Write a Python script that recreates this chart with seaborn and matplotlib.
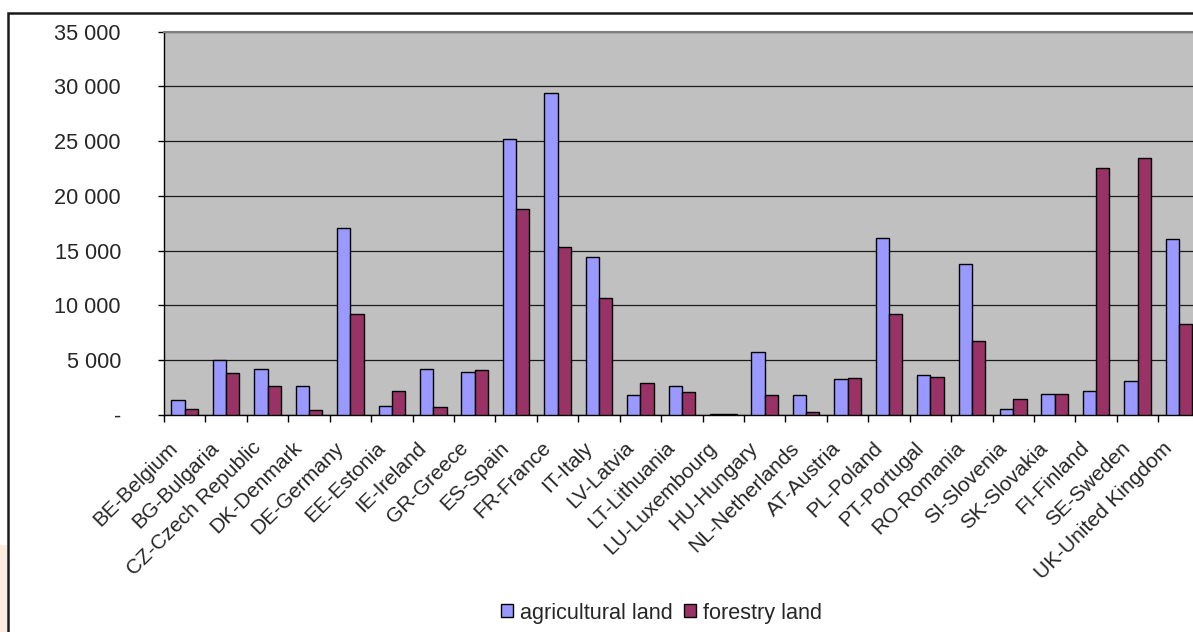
import matplotlib
matplotlib.use("Agg")
import matplotlib.pyplot as plt
import matplotlib.transforms as mtransforms
from matplotlib.patches import Rectangle, Patch
from matplotlib.ticker import FixedLocator, FuncFormatter
import numpy as np
import pandas as pd
import seaborn as sns

countries = [
    "BE-Belgium", "BG-Bulgaria", "CZ-Czech Republic", "DK-Denmark", "DE-Germany",
    "EE-Estonia", "IE-Ireland", "GR-Greece", "ES-Spain", "FR-France",
    "IT-Italy", "LV-Latvia", "LT-Lithuania", "LU-Luxembourg", "HU-Hungary",
    "NL-Netherlands", "AT-Austria", "PL-Poland", "PT-Portugal", "RO-Romania",
    "SI-Slovenia", "SK-Slovakia", "FI-Finland", "SE-Sweden", "UK-United Kingdom",
]
agricultural_land = [
    1400, 5060, 4235, 2650, 17030,
    795, 4205, 3930, 25170, 29370,
    14440, 1800, 2620, 100, 5760,
    1800, 3260, 16150, 3625, 13770,
    550, 1920, 2220, 3135, 16060,
]
forestry_land = [
    520, 3810, 2650, 430, 9260,
    2220, 700, 4115, 18830, 15330,
    10720, 2925, 2100, 90, 1800,
    300, 3350, 9260, 3500, 6765,
    1430, 1920, 22520, 23460, 8320,
]
series_names = ["agricultural land", "forestry land"]
series_colors = {"agricultural land": "#9999FF", "forestry land": "#993366"}

df = pd.DataFrame({
    "country": countries * 2,
    "series": [series_names[0]] * len(countries) + [series_names[1]] * len(countries),
    "value": agricultural_land + forestry_land,
})

sns.set_style("white")
plt.rcParams["font.family"] = ["Liberation Sans", "DejaVu Sans"]
FS = 15.6
FS_X = 15.0

W, H = 1193, 632
fig = plt.figure(figsize=(W / 100, H / 100), dpi=100)
fig.patch.set_facecolor("white")

# soft peach strip at the far left edge
fig.patches.append(Rectangle((0, 0), 7 / W, (632 - 545) / H, transform=fig.transFigure,
                             facecolor="#FCEBDF", edgecolor="none", zorder=0))
# outer chart frame
fig.patches.append(Rectangle((8 / W, -0.05), 1.2, (632 - 13) / H + 0.05, transform=fig.transFigure,
                             facecolor="none", edgecolor="#1a1a1a", linewidth=1.8, zorder=1))

left, right, top, bottom = 164 / W, 1199.7 / W, 1 - 31.7 / H, 1 - 415 / H
ax = fig.add_axes([left, bottom, right - left, top - bottom])
ax.set_facecolor("#C0C0C0")

sns.barplot(data=df, x="country", y="value", hue="series", hue_order=series_names,
            palette=series_colors, width=0.64, edgecolor="black", linewidth=1.0,
            saturation=1, legend=False, ax=ax, zorder=3)

ax.set_xlim(-0.5, len(countries) - 0.5)
ax.set_ylim(0, 35000)

# horizontal gridlines
ax.set_yticks(np.arange(0, 35001, 5000))
ax.yaxis.grid(True, color="#1a1a1a", linewidth=0.9, zorder=1)
ax.set_axisbelow(True)
ax.yaxis.set_major_formatter(FuncFormatter(
    lambda v, p: "-" if v == 0 else f"{int(v):,}".replace(",", " ")))
ax.tick_params(axis="y", which="major", length=6 * 0.72, width=1, color="black",
               labelsize=FS, pad=37 * 0.72, left=True)

# category boundaries as ticks, labels at centers
ax.xaxis.set_minor_locator(FixedLocator(np.arange(-0.5, len(countries), 1.0)))
ax.tick_params(axis="x", which="minor", length=7 * 0.72, width=1, color="black", bottom=True)
ax.tick_params(axis="x", which="major", length=0, labelsize=FS_X, pad=23.3 * 0.72)
ax.set_xticks(range(len(countries)))
ax.set_xticklabels(countries, rotation=45, ha="right", va="top", rotation_mode="anchor")
offset = mtransforms.ScaledTranslation(-16.5 / 100, 0, fig.dpi_scale_trans)
for lab in ax.get_xticklabels():
    lab.set_transform(lab.get_transform() + offset)

ax.set_xlabel("")
ax.set_ylabel("")

for side in ["left", "bottom"]:
    ax.spines[side].set_color("black")
    ax.spines[side].set_linewidth(1.0)
ax.spines["top"].set_color("#808080")
ax.spines["top"].set_linewidth(1.5)
ax.spines["right"].set_visible(False)

handles = [Patch(facecolor=series_colors[s], edgecolor="black", linewidth=1.0, label=s)
           for s in series_names]
fig.legend(handles=handles, loc="center", bbox_to_anchor=(661.5 / W, 1 - 613 / H),
           ncol=2, frameon=False, fontsize=FS, handlelength=0.55, handleheight=0.55,
           handletextpad=0.32, columnspacing=0.5, borderpad=0, borderaxespad=0)

fig.savefig("out.png", dpi=100, facecolor="white")
